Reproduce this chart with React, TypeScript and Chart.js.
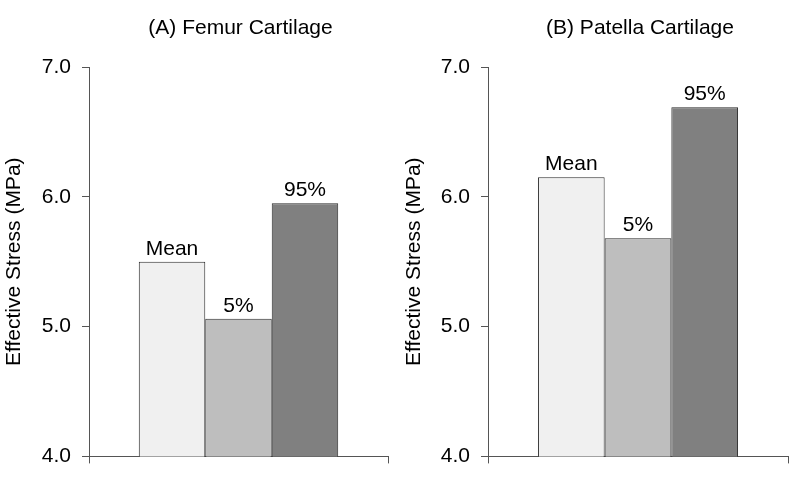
import React, { useEffect, useRef } from "react";
import { Chart, registerables } from "chart.js";

Chart.register(...registerables);

const seriesLabels = ["Mean", "5%", "95%"];
const seriesColors = ["#f0f0f0", "#bebebe", "#808080"];
const femurValues = [5.5, 5.06, 5.95];
const patellaValues = [6.15, 5.68, 6.69];
const panelTitles = ["(A) Femur Cartilage", "(B) Patella Cartilage"];
const yAxisTitle = "Effective Stress (MPa)";
const yMin = 4.0;
const yMax = 7.0;
const yStep = 1.0;

const FONT = "'Liberation Sans', Arial, sans-serif";
const AXIS_COLOR = "#555555";

const barLabelPlugin = {
  id: "barLabels",
  afterDatasetsDraw(chart: any) {
    const ctx = chart.ctx;
    ctx.save();
    ctx.font = `21px ${FONT}`;
    ctx.fillStyle = "#000";
    ctx.textAlign = "center";
    ctx.textBaseline = "alphabetic";
    chart.data.datasets.forEach((ds: any, i: number) => {
      const meta = chart.getDatasetMeta(i);
      meta.data.forEach((el: any) => {
        ctx.fillText(ds.label, el.x, el.y - 7);
      });
    });
    ctx.restore();
  },
};

const panelTitlePlugin = {
  id: "panelTitle",
  afterDraw(chart: any, _args: any, opts: any) {
    const ctx = chart.ctx;
    const ca = chart.chartArea;
    ctx.save();
    ctx.font = `21px ${FONT}`;
    ctx.fillStyle = "#000";
    ctx.textAlign = "center";
    ctx.textBaseline = "middle";
    ctx.fillText(opts.text, (ca.left + ca.right) / 2 + 2, 28);
    ctx.restore();
  },
};

function Panel({ title, values, yWidth }: { title: string; values: number[]; yWidth: number }) {
  const ref = useRef<HTMLCanvasElement | null>(null);
  useEffect(() => {
    if (!ref.current) return;
    const chart = new Chart(ref.current, {
      type: "bar",
      data: {
        labels: [""],
        datasets: seriesLabels.map((l, i) => ({
          label: l,
          data: [values[i]],
          backgroundColor: seriesColors[i],
          borderColor: "#2a2a2a",
          borderWidth: 1,
          barPercentage: 1,
          categoryPercentage: 0.667,
        })),
      },
      options: {
        animation: false,
        responsive: false,
        layout: { padding: { left: 0, right: 12, top: 67, bottom: 0 } },
        plugins: {
          legend: { display: false },
          tooltip: { enabled: false },
          title: { display: false },
          panelTitle: { text: title },
        } as any,
        scales: {
          x: {
            type: "category",
            ticks: { display: false },
            grid: {
              display: true,
              offset: true,
              drawOnChartArea: false,
              drawTicks: true,
              tickLength: 7,
              color: AXIS_COLOR,
            },
            border: { display: true, color: AXIS_COLOR, width: 1 },
            afterFit: (s: any) => {
              s.height = 22;
            },
          },
          y: {
            min: yMin,
            max: yMax,
            ticks: {
              stepSize: yStep,
              color: "#000",
              font: { family: FONT, size: 21 },
              padding: 11,
              callback: (v: any) => Number(v).toFixed(1),
            },
            grid: {
              display: true,
              drawOnChartArea: false,
              drawTicks: true,
              tickLength: 7,
              color: AXIS_COLOR,
            },
            border: { display: true, color: AXIS_COLOR, width: 1 },
            title: {
              display: true,
              text: yAxisTitle,
              color: "#000",
              font: { family: FONT, size: 21 },
              padding: { top: 2, bottom: 0 },
            },
            afterFit: (s: any) => {
              s.width = yWidth;
            },
          },
        },
      },
      plugins: [barLabelPlugin, panelTitlePlugin],
    });
    return () => chart.destroy();
  }, [title, values, yWidth]);
  return <canvas ref={ref} width={400} height={480} style={{ display: "block" }} />;
}

export default function App() {
  return (
    <div
      style={{
        position: "absolute",
        left: 0,
        top: 0,
        width: 800,
        height: 480,
        display: "flex",
        background: "#fff",
      }}
    >
      <Panel title={panelTitles[0]} values={femurValues} yWidth={89} />
      <Panel title={panelTitles[1]} values={patellaValues} yWidth={88} />
    </div>
  );
}
